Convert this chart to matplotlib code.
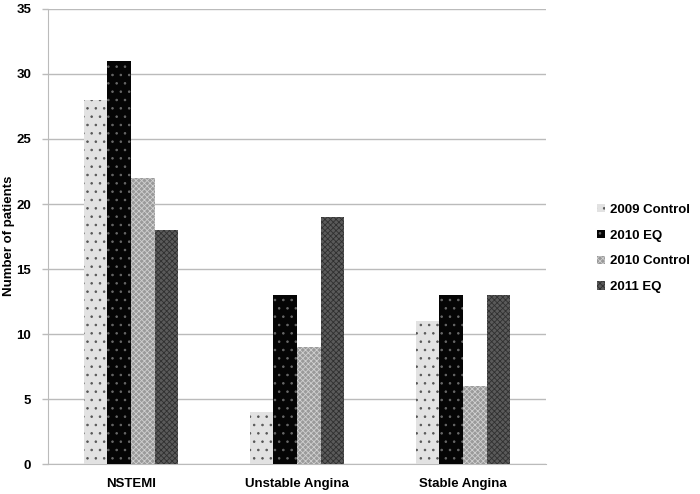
import matplotlib
matplotlib.use("Agg")
import matplotlib.pyplot as plt
import numpy as np
from matplotlib.patches import Patch

categories = ["NSTEMI", "Unstable Angina", "Stable Angina"]
series_names = ["2009 Control", "2010 EQ", "2010 Control", "2011 EQ"]
control_2009 = [28, 4, 11]
eq_2010 = [31, 13, 13]
control_2010 = [22, 9, 6]
eq_2011 = [18, 19, 13]
yticks = [0, 5, 10, 15, 20, 25, 30, 35]

values = [control_2009, eq_2010, control_2010, eq_2011]
faces = ["#e2e2e2", "#050505", "#9a9a9a", "#5a5a5a"]
hatchcols = ["#555555", "#6a6a6a", "#d0d0d0", "#303030"]
hatches = ["..", "..", "xxxxxx", "xxxxxx"]

plt.rcParams['font.family'] = ['Liberation Sans', 'DejaVu Sans']
plt.rcParams['hatch.linewidth'] = 0.6

fig = plt.figure(figsize=(7, 4.94), dpi=100)
ax = fig.add_axes([0.0686, 0.0607, 0.7114, 0.9211])

x = np.arange(len(categories))
w = 0.143
for i, (vals, fc, hc, h, name) in enumerate(zip(values, faces, hatchcols, hatches, series_names)):
    pos = x + (i - 1.5) * w
    ax.bar(pos, vals, width=w, color=fc, edgecolor=hc, hatch=h, linewidth=0, label=name, zorder=3)

ax.set_xlim(-0.5, 2.5)
ax.set_ylim(0, 35)
ax.set_yticks(yticks)
ax.set_yticklabels([str(t) for t in yticks], fontsize=9.5, fontweight='bold')
ax.set_xticks(x)
ax.set_xticklabels(categories, fontsize=9.5, fontweight='bold')
ax.tick_params(axis='x', length=0, pad=10)
ax.tick_params(axis='y', length=4, color='#bbbbbb', width=1, pad=8)
ax.yaxis.grid(True, color='#bbbbbb', linewidth=1, zorder=0)
ax.set_axisbelow(True)
for s in ['top', 'right']:
    ax.spines[s].set_visible(False)
ax.spines['left'].set_color('#bbbbbb')
ax.spines['bottom'].set_color('#bbbbbb')
fig.text(9 / 700, 1 - 236 / 494, "Number of patients", rotation=90, ha='center', va='center',
         fontsize=9.5, fontweight='bold')

handles = [Patch(facecolor=fc, edgecolor=hc, hatch=h, linewidth=0) for fc, hc, h in zip(faces, hatchcols, hatches)]
fig.legend(handles, series_names, loc='center left', bbox_to_anchor=(0.853, 0.497),
           frameon=False, prop={'size': 9.5, 'weight': 'bold'}, handlelength=0.6, handleheight=0.6,
           handletextpad=0.4, labelspacing=1.05, borderpad=0, borderaxespad=0)

fig.savefig("out.png", dpi=100)
